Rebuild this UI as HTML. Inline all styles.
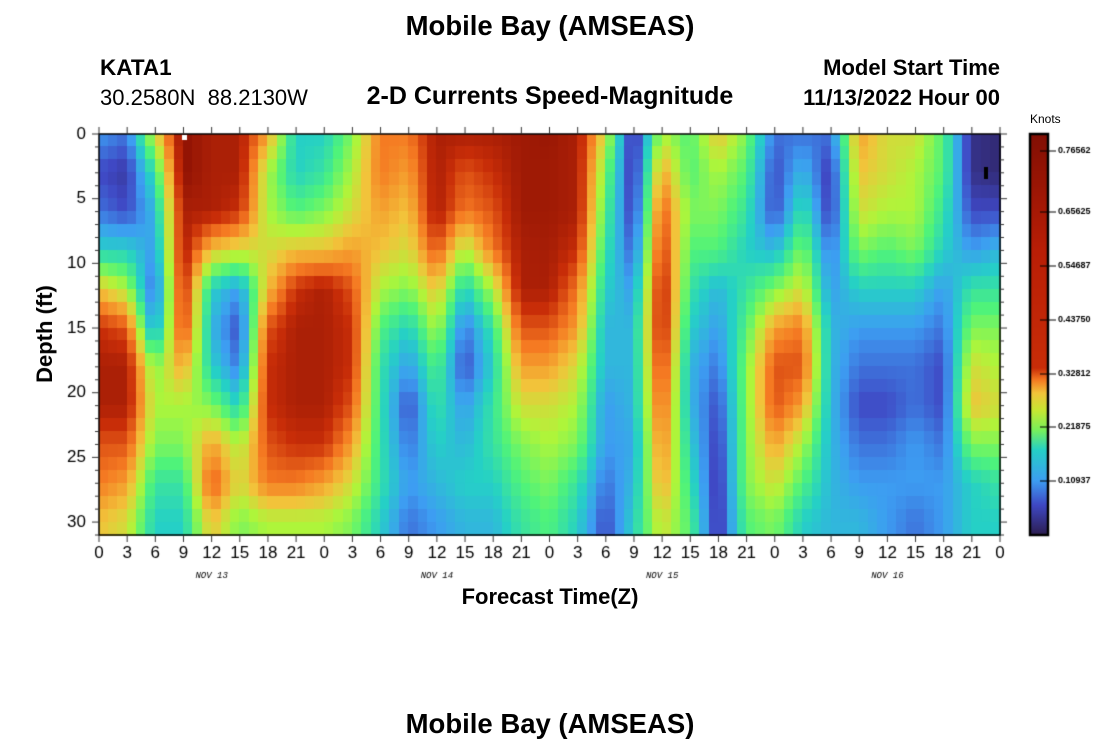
<!DOCTYPE html>
<html><head><meta charset="utf-8"><style>
html,body{margin:0;padding:0;background:#fff;width:1100px;height:750px;overflow:hidden;font-family:"Liberation Sans",sans-serif}
.t{position:absolute;white-space:nowrap;color:#000}
canvas{position:absolute}
</style></head><body>
<div class="t" style="left:0;width:1100px;text-align:center;top:10px;font-size:27.5px;font-weight:bold">Mobile Bay (AMSEAS)</div>
<div class="t" style="left:0;width:1100px;text-align:center;top:708px;font-size:27.5px;font-weight:bold">Mobile Bay (AMSEAS)</div>
<div class="t" style="left:100px;top:55px;font-size:22.5px;font-weight:bold">KATA1</div>
<div class="t" style="left:100px;top:85px;font-size:22px">30.2580N&nbsp;&nbsp;88.2130W</div>
<div class="t" style="left:0;width:1100px;text-align:center;top:82px;font-size:25px;font-weight:bold">2-D Currents Speed-Magnitude</div>
<div class="t" style="right:100px;top:55px;font-size:22px;font-weight:bold">Model Start Time</div>
<div class="t" style="right:100px;top:85px;font-size:22px;font-weight:bold">11/13/2022 Hour 00</div>
<div class="t" style="left:1030px;top:112px;font-size:12px">Knots</div>
<canvas id="c" width="1100" height="750" style="left:0;top:0"></canvas>
<div class="t" style="left:0;width:1100px;text-align:center;top:584px;font-size:22px;font-weight:bold">Forecast Time(Z)</div>
<div class="t" style="left:45px;top:334px;font-size:22px;font-weight:bold;transform:translate(-50%,-50%) rotate(-90deg)">Depth (ft)</div>
<script>
const G=[
[2,1.5,5.5,9,8.5,8.5,6.5,3,3,4.5,7,7,8.5,8.5,8.5,8.7,8.8,8.5,5.5,0.3,5,4,6,4.5,1.5,1.5,1.5,6.5,5.5,5.5,4,0.5,0.3],
[1,0.7,3.5,9,8.5,8.5,5,3,3.5,5,7,6.5,8.5,7.5,8,8.7,8.7,8.5,4.5,0.4,6.5,4,5,4,1,2.5,0.7,6,5.5,5,4,0.5,0.3],
[1.5,1,2.5,8.5,8.5,8,5,4,4.5,5.5,6.5,6,8.5,7,7.5,8.7,8.7,8.5,4,0.6,7.5,4.5,4.5,3.5,1,3.5,0.7,5.5,5,5,3.5,1,1],
[3,3,2,8.5,6,5.5,5.5,6,6,6.5,6,5.5,7.5,5,7,8.5,8.6,8,3.5,1.2,8,4,4,3,2.5,4.5,1.5,4.5,4,4.5,3,2,2.5],
[6,5,1.2,8.3,3,2,6,8,8.5,7.5,5,4.5,6,3,5,8.5,8.5,7,3,2,8.5,3.5,2.5,3.5,4.5,5.5,2,3,3,3,2,3.5,3.5],
[8,7.5,2,8,2.5,1,7.5,8.5,8.5,8,4,3,5,1.5,3.5,7.5,7.5,6.5,2.5,2.5,8.5,3,2,4,6.5,7,2.5,2,2,2,1.5,4.5,4.5],
[8.5,8.5,4.5,6.5,3,1.5,8,8.5,8.5,8,3.5,2,4,1,3,6.5,6.5,5.5,2.5,2.5,8,2.5,1.5,4.5,7.5,7.5,2.5,1.5,1.5,1.5,1,5.5,5],
[8.5,8.5,5,5,4.5,3,8,8.5,8.5,7.5,3.5,1,3.5,2,3.5,5.5,5.5,5,2,2.5,7.5,2.5,1,4.5,7.5,6.5,2.5,1,1,1.5,1,6,5.5],
[7.5,7.5,4.5,4.5,6.5,5,7.5,8,8,6.5,3.5,1.5,3,2.5,3.5,4.5,5,4.5,2,2.2,7,3,0.7,4.5,6.5,5,2.5,1.5,1.5,2,1.5,4.5,4.5],
[7,6.5,3.5,3.5,7.5,5.5,7,7,6.5,5.5,3.5,2,2.5,3,3,4,4.5,3.5,1.5,2.5,6.5,3.5,0.5,4.5,5.5,4,2.5,2,2,2,2,3,3.5],
[6,5.5,3,3,6,4.5,5,5,5,4.5,3,1.5,2,2.5,2.5,3.5,4,3,1,3,5.5,4,0.5,4,4.5,3,2.5,2.5,2,1.5,2,3,3]];
const S=[[0,[44,29,80]],[1,[63,72,196]],[2,[61,157,242]],[3,[37,208,198]],[4,[79,243,122]],[5,[174,245,58]],[6,[242,195,58]],[7,[245,122,34]],[8,[200,45,8]],[9,[142,18,4]]];
function col(v){v=Math.max(0,Math.min(9,v));let i=Math.min(8,Math.floor(v)),f=v-i,a=S[i][1],b=S[i+1][1];return `rgb(${a.map((x,k)=>Math.round(x+(b[k]-x)*f)).join(',')})`;}
function val(t,d){let ci=t/3,ri=d/3;let c0=Math.min(31,Math.floor(ci)),r0=Math.min(9,Math.floor(ri));let fc=ci-c0,fr=Math.min(1,ri-r0);
let a=G[r0][c0],b=G[r0][c0+1],c=G[r0+1][c0],e=G[r0+1][c0+1];return (a*(1-fc)+b*fc)*(1-fr)+(c*(1-fc)+e*fc)*fr;}
const cv=document.getElementById('c'),g=cv.getContext('2d');
const X0=99,X1=1000,Y0=134,Y1=535,cw=(X1-X0)/96,rh=(Y1-Y0)/31;
for(let i=0;i<96;i++)for(let j=0;j<31;j++){g.fillStyle=col(val(i+0.5,j+0.5));g.fillRect(Math.floor(X0+i*cw),Math.floor(Y0+j*rh),Math.ceil(cw)+1,Math.ceil(rh)+1);}
g.fillStyle='#fff';g.fillRect(182,135,5,5);g.fillStyle='#000';g.fillRect(984,167,4,12);
g.strokeStyle='#000';g.lineWidth=1.5;g.strokeRect(X0,Y0,X1-X0,Y1-Y0);
g.lineWidth=1;g.strokeStyle='#333';g.fillStyle='#000';g.font='17px "Liberation Sans", sans-serif';
g.textAlign='center';g.textBaseline='top';
const lab=[0,3,6,9,12,15,18,21];
for(let k=0;k<=32;k++){let x=X0+k*3*cw;g.beginPath();g.moveTo(x,Y0);g.lineTo(x,Y0-7);g.moveTo(x,Y1);g.lineTo(x,Y1+7);g.stroke();
g.fillText(String(lab[k%8]),x,545);}
g.font='italic 9px "Liberation Mono", monospace';
['NOV 13','NOV 14','NOV 15','NOV 16'].forEach((s,i)=>g.fillText(s,X0+(12+24*i)*cw,571));
g.font='17px "Liberation Sans", sans-serif';g.textAlign='right';g.textBaseline='middle';
for(let d=0;d<=31;d++){let y=Y0+d*rh,L=d%5==0?7:4;g.beginPath();g.moveTo(X0,y);g.lineTo(X0-L,y);g.moveTo(X1,y);g.lineTo(X1+L,y);g.stroke();
if(d%5==0)g.fillText(String(d),86,y);}
const cb=[[535,[44,29,80]],[505,[63,72,196]],[481,[61,157,242]],[450,[37,208,198]],[430,[120,240,90]],[410,[200,230,50]],[393,[242,195,58]],[380,[245,122,34]],[368,[200,45,8]],[250,[185,30,6]],[134,[130,15,4]]];
const gr=g.createLinearGradient(0,535,0,134);cb.forEach(s=>gr.addColorStop((535-s[0])/401,`rgb(${s[1].join(',')})`));
g.fillStyle=gr;g.fillRect(1030,134,18,401);g.strokeStyle='#000';g.lineWidth=2.5;g.strokeRect(1030,134,18,401);
g.lineWidth=1;g.font='bold 9px "Liberation Sans", sans-serif';g.textAlign='left';g.fillStyle='#000';
[[151,'0.76562'],[212,'0.65625'],[266,'0.54687'],[320,'0.43750'],[374,'0.32812'],[427,'0.21875'],[481,'0.10937']].forEach(a=>{g.beginPath();g.moveTo(1040,a[0]);g.lineTo(1056,a[0]);g.stroke();g.fillText(a[1],1058,a[0]);});
</script>
</body></html>
